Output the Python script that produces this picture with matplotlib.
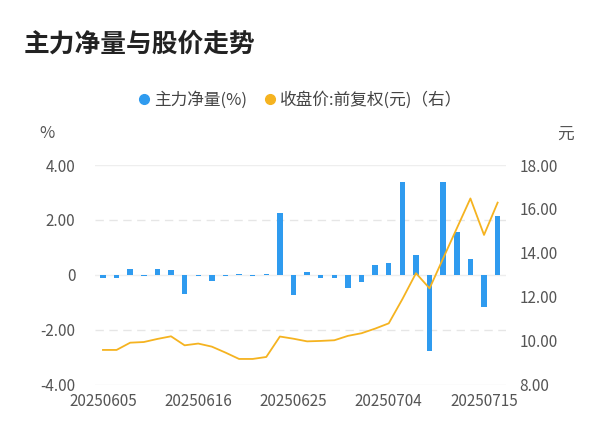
import matplotlib
matplotlib.use("Agg")
import matplotlib.pyplot as plt
from matplotlib.lines import Line2D

plt.rcParams['font.family'] = ['Noto Sans CJK SC', 'DejaVu Sans']

dates = ["20250605","20250606","20250609","20250610","20250611","20250612","20250613",
         "20250616","20250617","20250618","20250619","20250620","20250623","20250624",
         "20250625","20250626","20250627","20250630","20250701","20250702","20250703",
         "20250704","20250707","20250708","20250709","20250710","20250711","20250714",
         "20250715","20250716"]
net = [-0.1,-0.1,0.2,-0.02,0.22,0.17,-0.7,-0.04,-0.23,-0.04,0.04,-0.04,0.05,2.24,
       -0.74,0.11,-0.12,-0.12,-0.48,-0.26,0.38,0.45,3.4,0.72,-2.78,3.4,1.57,0.57,-1.18,2.13]
price = [9.59,9.59,9.92,9.95,10.09,10.21,9.80,9.88,9.74,9.47,9.18,9.18,9.27,10.2,
         10.1,9.98,10.0,10.03,10.23,10.35,10.56,10.8,11.9,13.08,12.39,13.76,15.12,16.48,14.82,16.29]
left_ticks = [-4, -2, 0, 2, 4]
left_labels = ["-4.00", "-2.00", "0", "2.00", "4.00"]
right_ticks = [8, 10, 12, 14, 16, 18]

fig = plt.figure(figsize=(6, 4.46), dpi=100)
ax = fig.add_axes([0.158, 0.137, 0.685, 0.493])
x = list(range(len(dates)))
ax.bar(x, net, width=0.4, color="#2f9bef", label="主力净量(%)", zorder=3)
ax.set_ylim(-4, 4)
ax.set_xlim(-0.6, len(dates) - 0.4)
ax.set_yticks(left_ticks)
ax.set_yticklabels(left_labels)
for y in [-2, 2]:
    ax.axhline(y, color="#e6e6e6", lw=1, ls=(0, (6, 4)), zorder=0)
for y in [-4, 0, 4]:
    ax.axhline(y, color="#eeeeee", lw=1, zorder=0)
ax.set_xticks([0, 7, 14, 21, 28])
ax.set_xticklabels([dates[i] for i in [0, 7, 14, 21, 28]])
for s in ax.spines.values():
    s.set_visible(False)
ax.tick_params(length=0, labelsize=11, colors="#555555", pad=6)
ax.tick_params(axis='y', pad=14)

ax2 = ax.twinx()
ax2.plot(x, price, color="#f5b320", lw=1.3, label="收盘价:前复权(元)（右）", zorder=4)
ax2.set_ylim(8, 18)
ax2.set_yticks(right_ticks)
ax2.set_yticklabels([f"{v:.2f}" for v in right_ticks])
for s in ax2.spines.values():
    s.set_visible(False)
ax2.tick_params(length=0, labelsize=11, colors="#555555", pad=10)

fig.text(0.04, 0.9, "主力净量与股价走势", fontsize=18.5, fontweight="bold", color="#222222", va="center")
fig.text(0.065, 0.70, "%", fontsize=12, color="#555555", va="center")
fig.text(0.928, 0.70, "元", fontsize=12, color="#555555", va="center")
h1, l1 = ax.get_legend_handles_labels()
h2, l2 = ax2.get_legend_handles_labels()
hs = [Line2D([], [], marker='o', ls='', color="#2f9bef", markersize=7),
      Line2D([], [], marker='o', ls='', color="#f5b320", markersize=7)]
fig.legend(hs, l1 + l2, loc="center", bbox_to_anchor=(0.5, 0.775), ncol=2, frameon=False,
           fontsize=12, handlelength=0.8, handletextpad=0.2, columnspacing=1.0, labelcolor="#444444")
fig.savefig("out.png", dpi=100)
